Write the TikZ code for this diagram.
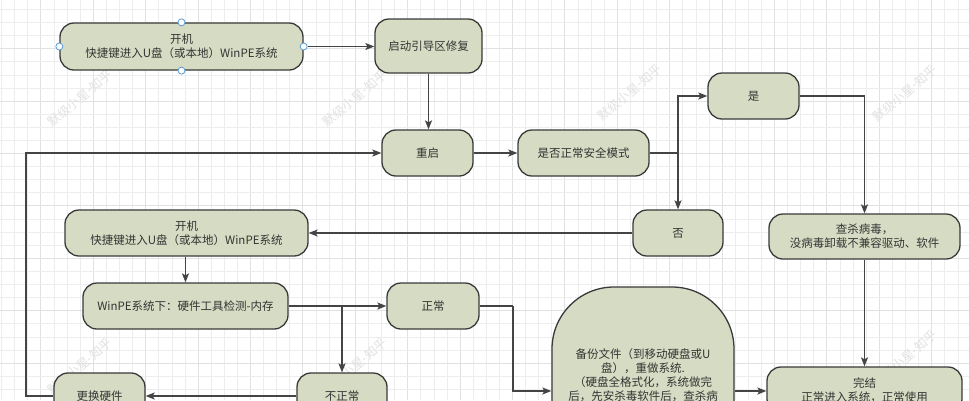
\documentclass[tikz,border=0pt]{standalone}
\usepackage{fontspec}
\setmainfont{Noto Sans CJK SC}
\usetikzlibrary{arrows.meta}
\definecolor{nodefill}{HTML}{D6DCC3}
\definecolor{nodedraw}{HTML}{3A3A3A}
\definecolor{txtc}{HTML}{333333}
\definecolor{edgec}{HTML}{444444}
\definecolor{handleblue}{HTML}{5B9BD5}
\definecolor{wmgrey}{HTML}{E2E2E2}
\definecolor{gridminor}{HTML}{EDEDED}
\definecolor{gridmajor}{HTML}{E1E1E1}
\tikzset{
 box/.style={draw=nodedraw, fill=nodefill, line width=1.3pt, rounded corners=14pt, align=center, text=txtc, font=\fontsize{11.5}{14}\selectfont, inner sep=0pt},
 conn/.style={draw=edgec, line width=1.3pt, -{Stealth[length=9pt,width=7pt,inset=2pt]}},
 plainline/.style={draw=edgec, line width=1.3pt},
 handle/.style={circle, draw=handleblue, fill=white, line width=0.8pt, minimum size=7pt, inner sep=0pt},
 wm/.style={text=wmgrey, rotate=40, font=\fontsize{12.5}{12.5}\selectfont, inner sep=0pt},
 btext/.style={align=center, text=txtc, font=\fontsize{11.5}{14}\selectfont, inner sep=0pt}
}
\begin{document}
\begin{tikzpicture}[x=1pt,y=-1pt]
\useasboundingbox (0,0) rectangle (969,400);
\clip (0,0) rectangle (969,400);
\fill[white] (0,0) rectangle (969,400);
% grid
\foreach \k in {0,...,73} {
  \pgfmathsetmacro{\xx}{1.5+13.1*\k}
  \pgfmathtruncatemacro{\mm}{mod(\k,4)}
  \ifnum\mm=3 \draw[gridmajor, line width=0.7pt] (\xx,0) -- (\xx,400); \else \draw[gridminor, line width=0.6pt] (\xx,0) -- (\xx,400); \fi
}
\foreach \k in {0,...,31} {
  \pgfmathsetmacro{\yy}{9.3+13.1*\k}
  \pgfmathtruncatemacro{\mm}{mod(\k,4)}
  \ifnum\mm=3 \draw[gridmajor, line width=0.7pt] (0,\yy) -- (969,\yy); \else \draw[gridminor, line width=0.6pt] (0,\yy) -- (969,\yy); \fi
}
% watermarks
\foreach \wx/\wy [count=\i] in {80/98, 355/98, 630/92, 905/93, 80/366, 355/366, 905/358} {
  \node[wm] (wm\i) at (\wx,\wy) {默级小星-知乎};
}
% nodes
\node[box, minimum width=243pt, minimum height=47pt] (a1) at (181.5,46.5) {开机\\快捷键进入U盘（或本地）WinPE系统};
\node[box, minimum width=107pt, minimum height=54pt] (b) at (428.5,46) {启动引导区修复};
\node[box, minimum width=91pt, minimum height=46pt] (c) at (427.5,153) {重启};
\node[box, minimum width=131pt, minimum height=46pt] (d) at (583.5,153) {是否正常安全模式};
\node[box, minimum width=91pt, minimum height=46pt] (e) at (753.5,96) {是};
\node[box, minimum width=90pt, minimum height=46pt] (n) at (678,233) {否};
\node[box, minimum width=191pt, minimum height=45pt] (v) at (864.5,236.5) {查杀病毒，\\没病毒卸载不兼容驱动、软件};
\node[box, minimum width=243pt, minimum height=46pt] (a2) at (186.5,233) {开机\\快捷键进入U盘（或本地）WinPE系统};
\node[box, minimum width=205pt, minimum height=46pt] (f) at (185.5,306) {WinPE系统下：硬件工具检测-内存};
\node[box, minimum width=92pt, minimum height=46pt] (ok) at (433,306) {正常};
\node[box, minimum width=90pt, minimum height=46pt] (bad) at (342,396) {不正常};
\node[box, minimum width=91pt, minimum height=46pt] (hw) at (99.5,396) {更换硬件};
\node[box, minimum width=195pt, minimum height=46pt] (w) at (864.5,390) {完结\\正常进入系统，正常使用};
\node[box, rounded corners=62pt, minimum width=182pt, minimum height=208pt] (bk) at (643,391) {};
\node[btext] (bkt) at (643,375) {备份文件（到移动硬盘或U\\盘），重做系统.\\（硬盘全格式化，系统做完\\后，先安杀毒软件后，查杀病};
% selection handles
\node[handle] (h1) at (a1.west) {};
\node[handle] (h2) at (a1.east) {};
\node[handle] (h3) at (a1.north) {};
\node[handle] (h4) at (a1.south) {};
% connectors
\coordinate (j1) at (678,153);
\coordinate (j2) at (342,306);
\coordinate (j3) at (513,306);
\coordinate (lft) at (26,396);
\draw[conn] (h2) -- (b.west |- a1.east);
\draw[conn] (b.south) -- (b.south |- c.north);
\draw[conn] (hw.west) -- (lft) |- (c.west);
\draw[conn] (c.east) -- (d.west);
\draw[plainline] (d.east) -- (j1);
\draw[conn] (j1) |- (e.west);
\draw[conn] (j1) -- (n.north);
\draw[conn] (e.east) -| (v.north);
\draw[conn] (n.west) -- (a2.east |- n.west);
\draw[conn] (a2.south -| f.north) -- (f.north);
\draw[conn] (f.east) -- (ok.west);
\draw[conn] (j2) -- (bad.north);
\draw[plainline] (ok.east) -- (j3);
\draw[conn] (j3) |- (bk.west);
\draw[conn] (bk.east) -- (bk.east -| w.west);
\draw[conn] (v.south) -- (w.north);
\draw[conn] (bad.west) -- (hw.east);
\end{tikzpicture}
\end{document}
